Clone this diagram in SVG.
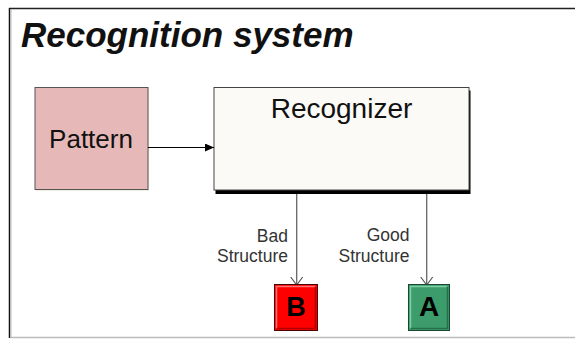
<svg xmlns="http://www.w3.org/2000/svg" width="575" height="339" viewBox="0 0 575 339">
<defs>
<style>
.t{font-family:"Liberation Sans",Arial,sans-serif}
.lbl{font-family:"Liberation Sans",Arial,sans-serif;font-size:17.5px;fill:#333;text-anchor:end}
.conn{stroke:#666;stroke-width:1.3;fill:none}
</style>
<marker id="tri" markerWidth="10" markerHeight="8" refX="9" refY="4" orient="auto" markerUnits="userSpaceOnUse">
<path d="M0,0 L9,4 L0,8 Z" fill="#000"/>
</marker>
<marker id="vee" markerWidth="14" markerHeight="10" refX="7" refY="9" orient="0" markerUnits="userSpaceOnUse">
<path d="M1,1 L7,9 L13,1" fill="none" stroke="#555" stroke-width="1.2"/>
</marker>
<filter id="sh" x="-10%" y="-10%" width="120%" height="130%">
<feGaussianBlur stdDeviation="0.6"/>
</filter>
</defs>
<rect width="575" height="339" fill="#fff"/>
<g id="frame">
<line x1="9" y1="8.5" x2="575" y2="8.5" stroke="#222" stroke-width="1.5"/>
<line x1="9.5" y1="8" x2="9.5" y2="338" stroke="#111" stroke-width="1.5"/>
<line x1="11" y1="9" x2="11" y2="338" stroke="#bbb" stroke-width="1"/>
<line x1="10" y1="337.5" x2="575" y2="337.5" stroke="#bbb" stroke-width="1.5"/>
</g>
<text id="title" class="t" x="21" y="47" font-size="35" font-weight="bold" font-style="italic" fill="#111">Recognition system</text>
<g id="pattern">
<rect x="36" y="89" width="113" height="102" fill="#f2eedc" filter="url(#sh)"/>
<rect x="35" y="87.5" width="113" height="102" fill="#e6b9b8" stroke="#555" stroke-width="1"/>
<text class="t" x="91" y="148" font-size="26" text-anchor="middle" fill="#111">Pattern</text>
</g>
<g id="recognizer">
<rect x="215.5" y="90.5" width="255" height="103.5" fill="#000" filter="url(#sh)"/>
<rect x="214" y="87.5" width="255" height="102.5" fill="#fbfaf6" stroke="#444" stroke-width="1"/>
<text class="t" x="341.5" y="118" font-size="28" text-anchor="middle" fill="#111">Recognizer</text>
</g>
<g id="connectors">
<line x1="148" y1="147.5" x2="214" y2="147.5" stroke="#000" stroke-width="1.2" marker-end="url(#tri)"/>
<line class="conn" x1="296.7" y1="194" x2="296.7" y2="285" marker-end="url(#vee)"/>
<line class="conn" x1="426.7" y1="194" x2="426.7" y2="285" marker-end="url(#vee)"/>
<text class="lbl" x="288" y="242">Bad</text>
<text class="lbl" x="288" y="262">Structure</text>
<text class="lbl" x="409.5" y="241">Good</text>
<text class="lbl" x="409.5" y="261.5">Structure</text>
</g>
<g id="B">
<rect x="274.5" y="284.5" width="43" height="46" fill="#ff0000" stroke="#4a0000" stroke-width="1"/>
<path d="M276.5,328.5 L276.5,286.5 L315.5,286.5" fill="none" stroke="#ff7070" stroke-width="1.5"/>
<path d="M276.5,328.5 L315.5,328.5 L315.5,286.5" fill="none" stroke="#b00000" stroke-width="1.5"/>
<text class="t" x="296" y="316" font-size="27" font-weight="bold" text-anchor="middle" fill="#000">B</text>
</g>
<g id="A">
<rect x="408.5" y="284.5" width="41" height="46" fill="#3d9c6c" stroke="#1c4630" stroke-width="1"/>
<path d="M410.5,328.5 L410.5,286.5 L447.5,286.5" fill="none" stroke="#7ccfa4" stroke-width="1.5"/>
<path d="M410.5,328.5 L447.5,328.5 L447.5,286.5" fill="none" stroke="#267049" stroke-width="1.5"/>
<text class="t" x="429" y="316" font-size="28" font-weight="bold" text-anchor="middle" fill="#000">A</text>
</g>
</svg>
